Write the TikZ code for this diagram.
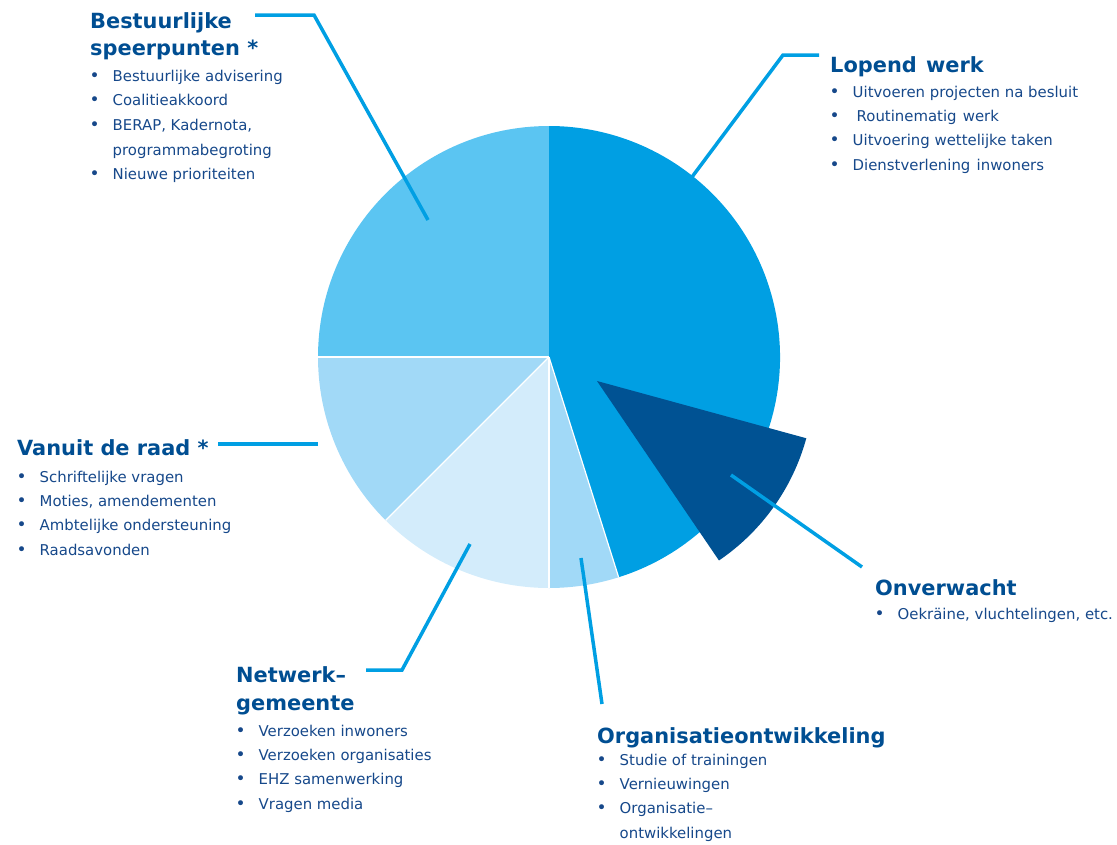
\documentclass[tikz,border=0pt]{standalone}
\usepackage{fontspec}
\setmainfont{DejaVu Sans}
\definecolor{hdcol}{RGB}{0,78,146}
\definecolor{txcol}{RGB}{22,72,138}
\definecolor{cLopend}{RGB}{0,159,227}
\definecolor{cDark}{RGB}{0,82,147}
\definecolor{cBest}{RGB}{91,197,242}
\definecolor{cLight}{RGB}{161,217,247}
\definecolor{cVlight}{RGB}{211,236,251}
\definecolor{cLead}{RGB}{0,159,227}
\newcommand\vlines[2]{\vtop{\baselineskip=#1\lineskiplimit=-100pt\lineskip=0pt #2}}
\newcommand\hdline[1]{\hbox{#1}}
\newcommand\itm[1]{\hbox{\hbox to 22.5pt{\kern-0.5pt{\fontsize{17}{17}\selectfont\textbullet}\hfil}#1}}
\newcommand\cnt[1]{\hbox{\kern22.5pt #1}}
\tikzset{
  head/.style={anchor=base west, inner sep=0pt, text=hdcol, font=\bfseries\fontsize{20.9}{27}\selectfont},
  items/.style={anchor=base west, inner sep=0pt, text=txcol, font=\fontsize{14.9}{24.5}\selectfont},
  lead/.style={draw=cLead, line width=3.5pt},
  sep/.style={draw=white, line width=1.2pt},
}
\begin{document}
\begin{tikzpicture}[x=1pt,y=1pt]
\useasboundingbox (0,0) rectangle (1117,-844);
\coordinate (C) at (549,-357);
% pie slices
\fill[cBest]  (C) -- ++(90:231pt) arc[start angle=90, end angle=180, radius=231pt] -- cycle;
\fill[cLight] (C) -- ++(180:231pt) arc[start angle=180, end angle=225, radius=231pt] -- cycle;
\fill[cVlight] (C) -- ++(225:231pt) arc[start angle=225, end angle=270, radius=231pt] -- cycle;
\fill[cLight] (C) -- ++(270:231pt) arc[start angle=270, end angle=287.55, radius=231pt] -- cycle;
\fill[cLopend] (C) -- ++(-72.45:231pt) arc[start angle=-72.45, end angle=90, radius=231pt] -- cycle;
\draw[sep] (C) -- ++(180:231pt);
\draw[sep] (C) -- ++(225:231pt);
\draw[sep] (C) -- ++(270:231pt);
\draw[sep] (C) -- ++(287.55:231pt);
\coordinate (A) at (597,-381);
\fill[cDark] (A) -- ++(-55.8:217pt) arc[start angle=-55.8, end angle=-15.3, radius=217pt] -- cycle;
% labels
\node[head] (hBest) at (90,-28) {\vlines{27pt}{\hdline{Bestuurlijke}\hdline{speerpunten *}}};
\node[items] (lBest) at (90,-81) {\vlines{24.7pt}{\itm{Bestuurlijke advisering}\itm{Coalitieakkoord}\itm{BERAP, Kadernota,}\cnt{programmabegroting}\itm{Nieuwe prioriteiten}}};
\node[head] (hLop) at (830,-72) {Lopend\hspace{2pt} werk};
\node[items] (lLop) at (830,-97) {\vlines{24.4pt}{\itm{Uitvoeren projecten na besluit}\itm{\kern4pt Routinematig\hspace{1.5pt} werk}\itm{Uitvoering wettelijke taken}\itm{Dienstverlening\hspace{1.5pt} inwoners}}};
\node[head] (hRaad) at (17,-455) {Vanuit de raad *};
\node[items] (lRaad) at (17,-482) {\vlines{24.4pt}{\itm{Schriftelijke vragen}\itm{Moties, amendementen}\itm{Ambtelijke ondersteuning}\itm{Raadsavonden}}};
\node[head] (hOnv) at (875,-595) {Onverwacht};
\node[items] (lOnv) at (875,-619) {\vlines{24.4pt}{\itm{Oekräine, vluchtelingen, etc.}}};
\node[head] (hNet) at (236,-682) {\vlines{28pt}{\hdline{Netwerk–}\hdline{gemeente}}};
\node[items] (lNet) at (236,-736) {\vlines{24.4pt}{\itm{Verzoeken inwoners}\itm{Verzoeken organisaties}\itm{EHZ samenwerking}\itm{Vragen media}}};
\node[head] (hOrg) at (597,-743) {Organisatieontwikkeling};
\node[items] (lOrg) at (597,-765) {\vlines{24.4pt}{\itm{Studie of trainingen}\itm{Vernieuwingen}\itm{Organisatie–}\cnt{ontwikkelingen}}};
% leader lines
\coordinate (pBest) at (428,-220);
\coordinate (kBest) at (314,-15);
\coordinate (eBest) at (255,-15);
\draw[lead] (pBest) -- (kBest) -- (eBest);
\coordinate (pLop) at (692,-177);
\coordinate (kLop) at (783,-55);
\coordinate (eLop) at (819,-55);
\draw[lead] (pLop) -- (kLop) -- (eLop);
\coordinate (pRaad) at (318,-444);
\coordinate (eRaad) at (218,-444);
\draw[lead] (pRaad) -- (eRaad);
\coordinate (pOnv) at (731,-475);
\coordinate (eOnv) at (862,-567);
\draw[lead] (pOnv) -- (eOnv);
\coordinate (pNet) at (470,-544);
\coordinate (kNet) at (402,-670);
\coordinate (eNet) at (366,-670);
\draw[lead] (pNet) -- (kNet) -- (eNet);
\coordinate (pOrg) at (581,-558);
\coordinate (eOrg) at (602,-704);
\draw[lead] (pOrg) -- (eOrg);
\end{tikzpicture}
\end{document}
